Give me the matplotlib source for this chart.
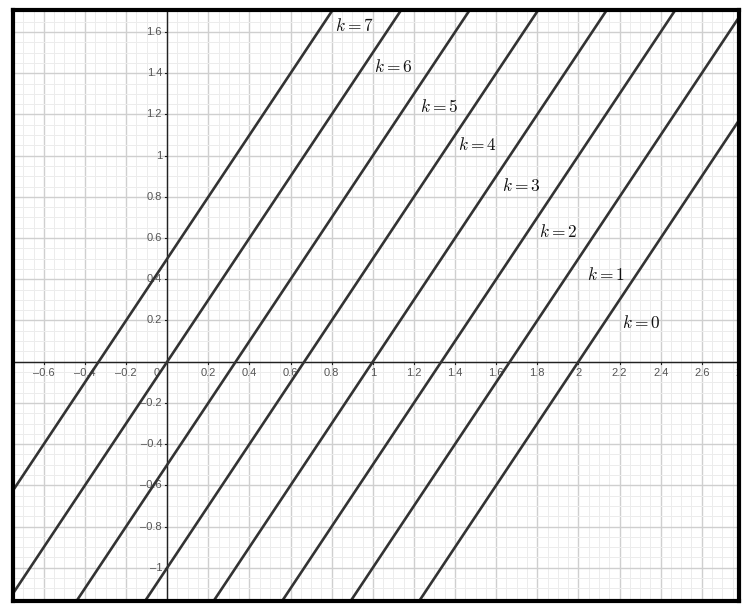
import numpy as np
import matplotlib
matplotlib.use("Agg")
import matplotlib.pyplot as plt
from matplotlib.ticker import MultipleLocator

# Data: family of lines y = slope*x + intercept, labelled by k
k_values = [0, 1, 2, 3, 4, 5, 6, 7]
slope = 1.5
intercepts = [-3.0, -2.5, -2.0, -1.5, -1.0, -0.5, 0.0, 0.5]
label_x = [2.21, 2.04, 1.81, 1.63, 1.415, 1.23, 1.005, 0.815]
label_y = [0.19, 0.42, 0.63, 0.855, 1.05, 1.235, 1.43, 1.63]

x_ticks = [-0.6, -0.4, -0.2, 0.2, 0.4, 0.6, 0.8, 1, 1.2, 1.4, 1.6, 1.8, 2, 2.2, 2.4, 2.6, 2.8]
y_ticks = [-1, -0.8, -0.6, -0.4, -0.2, 0.2, 0.4, 0.6, 0.8, 1, 1.2, 1.4, 1.6]

xlim = (-0.750, 2.782)
ylim = (-1.159, 1.707)

plt.rcParams['mathtext.fontset'] = 'cm'

W, H = 748, 613
fig = plt.figure(figsize=(W / 100, H / 100), dpi=100)
fig.patch.set_facecolor('white')
left, right, top, bottom = 13, 739.2, 10, 600.5
ax = fig.add_axes([left / W, 1 - bottom / H, (right - left) / W, (bottom - top) / H])
ax.set_xlim(*xlim)
ax.set_ylim(*ylim)

# grid
ax.xaxis.set_major_locator(MultipleLocator(0.2))
ax.yaxis.set_major_locator(MultipleLocator(0.2))
ax.xaxis.set_minor_locator(MultipleLocator(0.05))
ax.yaxis.set_minor_locator(MultipleLocator(0.05))
ax.grid(which='minor', color='#ececec', lw=0.7, zorder=0)
ax.grid(which='major', color='#cfcfcf', lw=1.0, zorder=0)
ax.tick_params(which='both', length=0, labelbottom=False, labelleft=False)
ax.set_axisbelow(True)

# axes lines
ax.axhline(0, color='#222222', lw=1.0, zorder=2)
ax.axvline(0, color='#222222', lw=1.0, zorder=2)

# tick labels
fs = 8
tc = '#555555'
def fmt(v):
    s = ('%g' % abs(v))
    return ('\u2013' + s) if v < 0 else s

for v in x_ticks:
    ax.text(v, -0.055, fmt(v), ha='center', va='center', fontsize=fs, color=tc,
            family='Liberation Sans', zorder=3, clip_on=True)
    ax.plot([v, v], [0, -0.012], color='#222222', lw=0.8, zorder=2)
for v in y_ticks:
    ax.text(-0.025, v, fmt(v), ha='right', va='center', fontsize=fs, color=tc,
            family='Liberation Sans', zorder=3, clip_on=True)
    ax.plot([0, -0.012], [v, v], color='#222222', lw=0.8, zorder=2)
ax.text(-0.05, -0.055, '0', ha='center', va='center', fontsize=fs, color=tc,
        family='Liberation Sans', zorder=3)

# lines
xs = np.array(xlim)
for k, b, lx, ly in zip(k_values, intercepts, label_x, label_y):
    ax.plot(xs, slope * xs + b, color='#333333', lw=1.9, zorder=4, solid_capstyle='butt')
    ax.text(lx, ly, r'$k = %d$' % k, fontsize=12.5, color='#111111', ha='left', va='center', zorder=5)

for sp in ax.spines.values():
    sp.set_linewidth(3.0)
    sp.set_color('black')
    sp.set_zorder(6)

fig.savefig('out.png', dpi=100, facecolor='white')
